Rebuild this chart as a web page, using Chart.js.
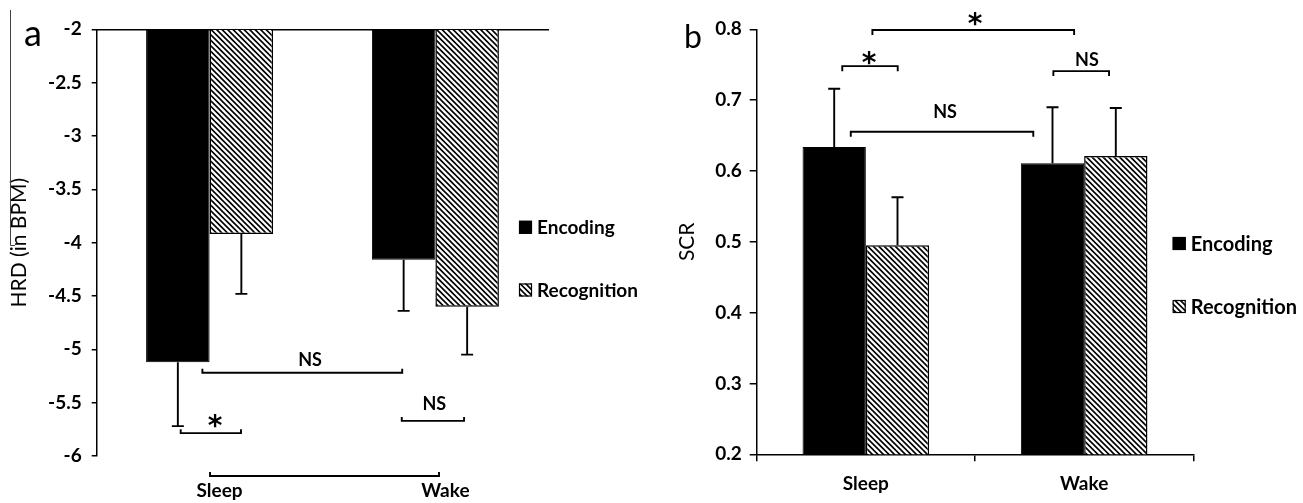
<!DOCTYPE html>
<html>
<head>
<meta charset="utf-8">
<script src="https://cdn.jsdelivr.net/npm/chart.js@4.4.1/dist/chart.umd.min.js"></script>
<style>
html, body { margin: 0; padding: 0; background: #fff; }
#wrapA { position: absolute; left: 0; top: 0; width: 660px; height: 503px; }
#wrapB { position: absolute; left: 660px; top: 0; width: 643px; height: 503px; }
</style>
</head>
<body>
<div id="wrapA"><canvas id="chartA" width="660" height="503"></canvas></div>
<div id="wrapB"><canvas id="chartB" width="643" height="503"></canvas></div>
<script>
// categories / series
const conditions = ['Sleep', 'Wake'];
const seriesNames = ['Encoding', 'Recognition'];

// (a) HRD (in BPM)
const hrdEncoding = [-5.12, -4.16];
const hrdRecognition = [-3.92, -4.60];
const hrdEncodingErr = [0.60, 0.48];
const hrdRecognitionErr = [0.56, 0.45];
const hrdTicks = ['-6', '-5.5', '-5', '-4.5', '-4', '-3.5', '-3', '-2.5', '-2'];

// (b) SCR
const scrEncoding = [0.634, 0.611];
const scrRecognition = [0.495, 0.621];
const scrEncodingErr = [0.082, 0.079];
const scrRecognitionErr = [0.068, 0.068];
const scrTicks = ['0.2', '0.3', '0.4', '0.5', '0.6', '0.7', '0.8'];

// significance brackets: [from, to, level, label, labelAt, labelLevel]
const hrdBrackets = [
    [-0.032, 0.853, -5.22, 'NS', 0.445, -5.10],
    [-0.128, 0.139, -5.786, '*', 0.024, -5.66],
    [0.851, 1.127, -5.671, 'NS', 0.995, -5.51],
    [0.002, 1.016, -6.187, '', 0, 0]
];
const scrBrackets = [
    [0.030, 0.954, 0.799, '*', 0.5, 0.8155],
    [-0.108, 0.146, 0.748, '*', 0.015, 0.7613],
    [-0.069, 0.767, 0.6554, 'NS', 0.363, 0.6837],
    [0.859, 1.114, 0.741, 'NS', 1.013, 0.7567]
];

// diagonal hatch for "Recognition"
function makeHatch() {
    const c = document.createElement('canvas');
    c.width = 11; c.height = 11;
    const g = c.getContext('2d');
    g.fillStyle = '#fff';
    g.fillRect(0, 0, 11, 11);
    g.strokeStyle = '#000';
    g.lineWidth = 1.6;
    g.beginPath();
    [-11, -5.5, 0, 5.5, 11].forEach(k => {
        g.moveTo(-2, -2 + k);
        g.lineTo(13, 13 + k);
    });
    g.stroke();
    return g.createPattern(c, 'repeat');
}

// error bars drawn from the value scale
const errorBars = {
    id: 'errorBars',
    afterDatasetsDraw(chart) {
        const ctx = chart.ctx;
        const ys = chart.scales.y;
        ctx.save();
        ctx.strokeStyle = '#000';
        ctx.lineWidth = 1.9;
        chart.data.datasets.forEach((ds, i) => {
            const meta = chart.getDatasetMeta(i);
            const base = ds.base !== undefined ? ds.base : 0;
            meta.data.forEach((bar, j) => {
                const v = ds.data[j];
                const end = v < base ? v - ds.errors[j] : v + ds.errors[j];
                const yEnd = ys.getPixelForValue(end);
                ctx.beginPath();
                ctx.moveTo(bar.x, bar.y);
                ctx.lineTo(bar.x, yEnd);
                ctx.moveTo(bar.x - 6, yEnd);
                ctx.lineTo(bar.x + 6, yEnd);
                ctx.stroke();
            });
        });
        ctx.restore();
    }
};

// brackets with "NS" / "*"
const brackets = {
    id: 'brackets',
    afterDraw(chart, args, opts) {
        const ctx = chart.ctx;
        const xs = chart.scales.x, ys = chart.scales.y;
        ctx.save();
        ctx.strokeStyle = '#000';
        ctx.fillStyle = '#000';
        ctx.lineWidth = 1.9;
        ctx.textAlign = 'center';
        ctx.textBaseline = 'alphabetic';
        opts.items.forEach(b => {
            const x0 = xs.getPixelForValue(b[0]);
            const x1 = xs.getPixelForValue(b[1]);
            const y = ys.getPixelForValue(b[2]);
            ctx.beginPath();
            ctx.moveTo(x0, y + opts.tick);
            ctx.lineTo(x0, y);
            ctx.lineTo(x1, y);
            ctx.lineTo(x1, y + opts.tick);
            ctx.stroke();
            if (b[3]) {
                const lx = xs.getPixelForValue(b[4]);
                const ly = ys.getPixelForValue(b[5]);
                if (b[3] === '*') {
                    // Lato's asterisk is tiny, DejaVu's is closer to the original
                    ctx.font = 'bold 28px "DejaVu Sans"';
                    ctx.fillText('*', lx, ly + 28 * 0.53);
                } else {
                    ctx.font = 'bold 18px Lato';
                    ctx.fillText(b[3], lx, ly + 18 * 0.36);
                }
            }
        });
        ctx.restore();
    }
};

// legend to the right of the plot
const sideLegend = {
    id: 'sideLegend',
    afterDraw(chart, args, opts) {
        const ctx = chart.ctx;
        ctx.save();
        ctx.font = 'bold ' + opts.size + 'px Lato';
        ctx.textBaseline = 'middle';
        ctx.textAlign = 'left';
        chart.data.datasets.forEach((ds, i) => {
            const y = opts.y[i];
            ctx.fillStyle = ds.backgroundColor;
            ctx.fillRect(opts.x, y - 6.5, 13, 13);
            ctx.strokeStyle = '#000';
            ctx.lineWidth = 1.2;
            ctx.strokeRect(opts.x + 0.5, y - 6, 12, 12);
            ctx.fillStyle = '#000';
            ctx.fillText(ds.label, opts.x + 18, y + 1);
        });
        ctx.restore();
    }
};

// panel letter (and the stray rule in panel a)
const panelMark = {
    id: 'panelMark',
    afterDraw(chart, args, opts) {
        const ctx = chart.ctx;
        ctx.save();
        ctx.fillStyle = '#000';
        ctx.font = opts.size + 'px Lato';
        ctx.textAlign = 'center';
        ctx.textBaseline = 'alphabetic';
        ctx.fillText(opts.text, opts.x, opts.y);
        if (opts.rule) {
            ctx.strokeStyle = '#444';
            ctx.lineWidth = 1;
            ctx.beginPath();
            ctx.moveTo(10.5, 10);
            ctx.lineTo(10.5, 245.5);
            ctx.lineTo(15, 245.5);
            ctx.stroke();
        }
        ctx.restore();
    }
};

const tickFont = { family: 'Lato', weight: 'bold', size: 19 };

function drawCharts() {
    const hatch = makeHatch();

    // (a) HRD
    new Chart(document.getElementById('chartA'), {
        type: 'bar',
        data: {
            labels: conditions,
            datasets: [{
                label: seriesNames[0],
                data: hrdEncoding,
                errors: hrdEncodingErr,
                backgroundColor: '#000',
                borderColor: '#000',
                borderWidth: 1,
                base: -2,
                xAxisID: 'x'
            }, {
                label: seriesNames[1],
                data: hrdRecognition,
                errors: hrdRecognitionErr,
                backgroundColor: hatch,
                borderColor: '#000',
                borderWidth: 1.5,
                base: -2,
                xAxisID: 'x'
            }]
        },
        options: {
            responsive: false,
            animation: false,
            devicePixelRatio: 1,
            layout: { padding: { top: 29.3, right: 111.7, bottom: 0, left: 0 } },
            datasets: { bar: { categoryPercentage: 0.5625, barPercentage: 1, borderSkipped: 'start' } },
            scales: {
                x: {
                    type: 'category',
                    position: 'bottom',
                    grid: { display: false, drawTicks: false },
                    border: { display: false },
                    ticks: { font: tickFont, color: '#000', padding: 23, labelOffset: 10 },
                    afterFit: s => { s.height = 47; }
                },
                x2: {
                    type: 'category',
                    position: 'top',
                    grid: { display: false, drawTicks: false },
                    border: { display: true, color: '#000', width: 1.5 },
                    ticks: { display: false },
                    afterFit: s => { s.height = 0; }
                },
                y: {
                    min: -6,
                    max: -2,
                    ticks: { stepSize: 0.5, callback: (v, i) => hrdTicks[i], font: tickFont, color: '#000', padding: 10 },
                    grid: { drawOnChartArea: false, tickLength: 5, color: '#000', lineWidth: 1.5 },
                    border: { color: '#000', width: 1.5 },
                    title: { display: true, text: 'HRD (in BPM)', font: { family: 'Lato', size: 21 }, color: '#000', padding: { top: 7, bottom: 0 } },
                    afterFit: s => { s.width = 96.7; }
                }
            },
            plugins: {
                legend: { display: false },
                tooltip: { enabled: false },
                brackets: { items: hrdBrackets, tick: -4 },
                sideLegend: { x: 519, y: [227.3, 290], size: 19 },
                panelMark: { text: 'a', x: 33, y: 46, size: 36, rule: true }
            }
        },
        plugins: [errorBars, brackets, sideLegend, panelMark]
    });

    // (b) SCR
    new Chart(document.getElementById('chartB'), {
        type: 'bar',
        data: {
            labels: conditions,
            datasets: [{
                label: seriesNames[0],
                data: scrEncoding,
                errors: scrEncodingErr,
                backgroundColor: '#000',
                borderColor: '#000',
                borderWidth: 1
            }, {
                label: seriesNames[1],
                data: scrRecognition,
                errors: scrRecognitionErr,
                backgroundColor: hatch,
                borderColor: '#000',
                borderWidth: 1.5
            }]
        },
        options: {
            responsive: false,
            animation: false,
            devicePixelRatio: 1,
            layout: { padding: { top: 29.3, right: 109.7, bottom: 0, left: 0 } },
            datasets: { bar: { categoryPercentage: 0.58, barPercentage: 1, borderSkipped: 'start' } },
            scales: {
                x: {
                    grid: { display: true, offset: true, drawOnChartArea: false, tickLength: 7, color: '#000', lineWidth: 1.5 },
                    border: { color: '#000', width: 1.5 },
                    ticks: { font: tickFont, color: '#000', padding: 11 },
                    afterFit: s => { s.height = 48.7; }
                },
                y: {
                    min: 0.2,
                    max: 0.8,
                    ticks: { stepSize: 0.1, callback: (v, i) => scrTicks[i], font: tickFont, color: '#000', padding: 8 },
                    grid: { drawOnChartArea: false, tickLength: 7, color: '#000', lineWidth: 1.5 },
                    border: { color: '#000', width: 1.5 },
                    title: { display: true, text: 'SCR', font: { family: 'Lato', size: 21 }, color: '#000', padding: { top: 15, bottom: 0 } },
                    afterFit: s => { s.width = 96.7; }
                }
            },
            plugins: {
                legend: { display: false },
                tooltip: { enabled: false },
                brackets: { items: scrBrackets, tick: 5 },
                sideLegend: { x: 512.7, y: [243.5, 306.5], size: 20 },
                panelMark: { text: 'b', x: 33, y: 48, size: 32, rule: false }
            }
        },
        plugins: [errorBars, brackets, sideLegend, panelMark]
    });
}

Promise.all([
    document.fonts.load('bold 19px Lato'),
    document.fonts.load('21px Lato'),
    document.fonts.load('bold 28px "DejaVu Sans"')
]).then(drawCharts, drawCharts);
</script>
</body>
</html>
